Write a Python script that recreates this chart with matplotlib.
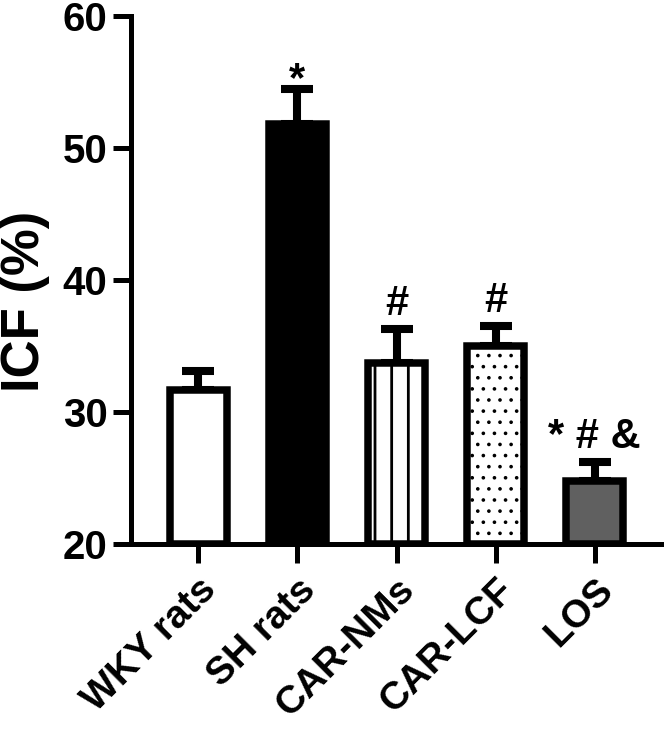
import matplotlib
matplotlib.use("Agg")
import matplotlib.pyplot as plt
import numpy as np

# ---- data ----
categories = ["WKY rats", "SH rats", "CAR-NMs", "CAR-LCF", "LOS"]
means = [31.7, 51.8, 33.7, 35.0, 24.8]
errors = [1.4, 2.7, 2.6, 1.5, 1.4]
annotations = ["", "*", "#", "#", "* # &"]
yticks = [20, 30, 40, 50, 60]

# ---- style ----
fills = ["white", "black", "white", "white", "#606060"]
hatches = [None, None, "||", "...", None]

plt.rcParams['font.family'] = ['Liberation Sans', 'DejaVu Sans']
plt.rcParams['font.weight'] = 'bold'

fig = plt.figure(figsize=(3.325, 3.645), dpi=200)
ax = fig.add_axes([0.197, 0.2538, 0.797, 0.724])

x = np.arange(len(categories))
ymin, ymax = yticks[0], yticks[-1]

ax.errorbar(x, means, yerr=[np.zeros(len(errors)), errors], fmt='none',
            ecolor='black', elinewidth=2.9, capsize=5.6, capthick=2.9, zorder=1)

for i in range(len(categories)):
    with plt.rc_context({'hatch.linewidth': 0.5 if hatches[i] == "..." else 1.0}):
        b = ax.bar(x[i], means[i] - ymin, bottom=ymin, width=0.58,
                   color=fills[i], edgecolor='black', linewidth=2.7, zorder=2)
        if hatches[i]:
            b[0].set_hatch(hatches[i])
            if hasattr(b[0], 'set_hatch_linewidth'):
                b[0].set_hatch_linewidth(0.5 if hatches[i] == "..." else 1.0)

for i, t in enumerate(annotations):
    if not t:
        continue
    top = means[i] + errors[i]
    off = -1 if t == "*" else 5.0
    ax.annotate(t, xy=(x[i], top), xytext=(0, off), textcoords='offset points',
                ha='center', va='baseline', fontsize=15, fontweight='bold')

ax.set_xlim(-0.68, 4.67)
ax.set_ylim(ymin, ymax)
ax.set_yticks(yticks)
ax.set_xticks(x)
ax.set_xticklabels(categories, rotation=45, ha='right', rotation_mode='anchor',
                   fontsize=14, fontweight='bold')
ax.tick_params(axis='y', labelsize=14.5, width=1.8, length=6.5, pad=2)
ax.tick_params(axis='x', width=1.8, length=7, pad=3)
for lab in ax.get_yticklabels():
    lab.set_fontweight('bold')

ax.spines['top'].set_visible(False)
ax.spines['right'].set_visible(False)
ax.spines['left'].set_linewidth(1.8)
ax.spines['bottom'].set_linewidth(1.8)

ax.set_ylabel("ICF (%)", fontsize=19, fontweight='bold')
ax.yaxis.set_label_coords(-0.152, 0.46)

fig.savefig("out.png", dpi=200)
